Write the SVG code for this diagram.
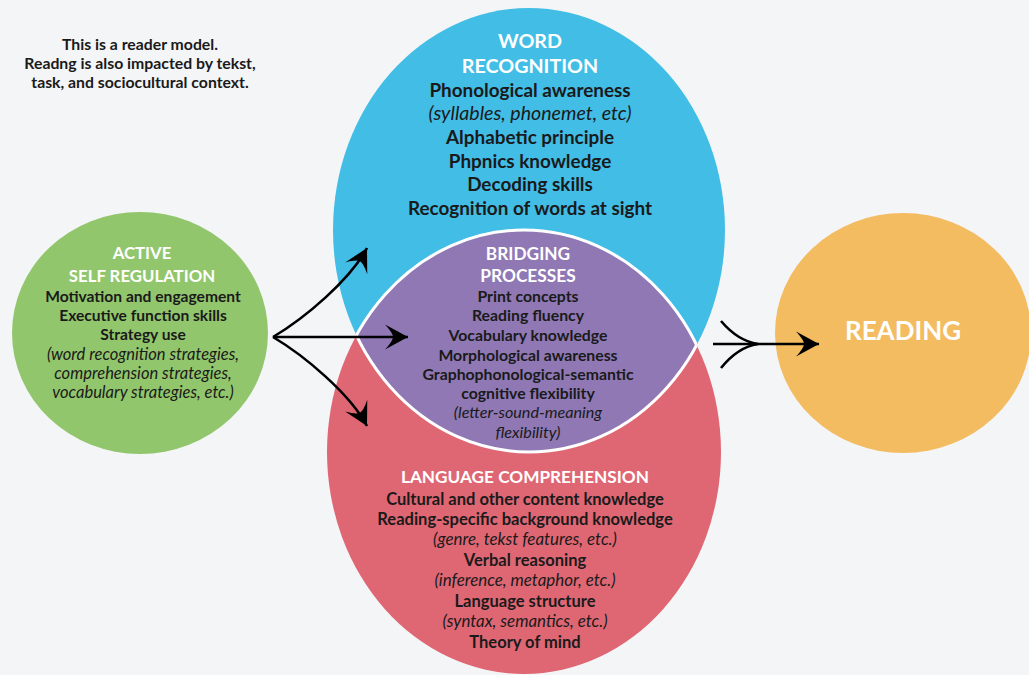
<svg xmlns="http://www.w3.org/2000/svg" width="1029" height="675" viewBox="0 0 1029 675">
<style>
.t{font-family:Lato,"Liberation Sans",sans-serif;text-anchor:middle;fill:#1a1a1a;font-weight:700}
.h{font-family:Lato,"Liberation Sans",sans-serif;text-anchor:middle;fill:#ffffff;font-weight:700}
.i{font-family:Lato,"Liberation Sans",sans-serif;text-anchor:middle;fill:#1a1a1a;font-weight:400;font-style:italic}
.conn{fill:none;stroke:#000;stroke-width:2.6}
</style>
<defs>
<marker id="head" markerUnits="userSpaceOnUse" markerWidth="30" markerHeight="30" viewBox="-26 -15 30 30" refX="0" refY="0" orient="auto">
<path d="M0,0 L-23,-12.5 Q-15,-4 -15,0 Q-15,4 -23,12.5 Z" fill="#000"/>
</marker>
<clipPath id="clipBlue"><ellipse cx="529" cy="230" rx="196" ry="222"/></clipPath>
<clipPath id="clipRed"><ellipse cx="524" cy="452" rx="197" ry="222"/></clipPath>
</defs>
<rect x="0" y="0" width="1029" height="675" fill="#f4f5f7"/>

<g id="note">
<text class="t" font-size="15.8" x="140" y="50">This is a reader model.</text>
<text class="t" font-size="15.8" x="140" y="69">Readng is also impacted by tekst,</text>
<text class="t" font-size="15.8" x="140" y="88">task, and sociocultural context.</text>
</g>

<g id="node-self-regulation">
<ellipse cx="140" cy="333" rx="128" ry="121" fill="#92c66c"/>
<text class="h" font-size="16.8" x="142" y="259">ACTIVE</text>
<text class="h" font-size="16.8" x="142" y="282">SELF REGULATION</text>
<text class="t" font-size="15.6" x="143" y="302">Motivation and engagement</text>
<text class="t" font-size="15.6" x="143" y="321">Executive function skills</text>
<text class="t" font-size="15.6" x="143" y="340">Strategy use</text>
<text class="i" font-size="16.5" x="143" y="360">(word recognition strategies,</text>
<text class="i" font-size="16.5" x="143" y="379">comprehension strategies,</text>
<text class="i" font-size="16.5" x="143" y="398">vocabulary strategies, etc.)</text>
</g>

<g id="node-word-recognition">
<ellipse cx="529" cy="230" rx="196" ry="222" fill="#41bde6"/>
<text class="h" font-size="19.7" x="530" y="48">WORD</text>
<text class="h" font-size="19.7" x="530" y="73">RECOGNITION</text>
<text class="t" font-size="18.9" x="530" y="97">Phonological awareness</text>
<text class="i" font-size="19.6" x="530" y="120">(syllables, phonemet, etc)</text>
<text class="t" font-size="18.9" x="530" y="144">Alphabetic principle</text>
<text class="t" font-size="18.9" x="530" y="168">Phpnics knowledge</text>
<text class="t" font-size="18.9" x="530" y="191">Decoding skills</text>
<text class="t" font-size="18.9" x="530" y="215">Recognition of words at sight</text>
</g>

<g id="node-language-comprehension">
<ellipse cx="524" cy="452" rx="197" ry="222" fill="#df6774"/>
<text class="h" font-size="17.2" x="525" y="483">LANGUAGE COMPREHENSION</text>
<text class="t" font-size="16.5" x="525" y="505">Cultural and other content knowledge</text>
<text class="t" font-size="16.5" x="525" y="525">Reading-specific background knowledge</text>
<text class="i" font-size="16.9" x="525" y="545">(genre, tekst features, etc.)</text>
<text class="t" font-size="16.5" x="525" y="566">Verbal reasoning</text>
<text class="i" font-size="16.9" x="525" y="586">(inference, metaphor, etc.)</text>
<text class="t" font-size="16.5" x="525" y="607">Language structure</text>
<text class="i" font-size="16.9" x="525" y="627">(syntax, semantics, etc.)</text>
<text class="t" font-size="16.5" x="525" y="648">Theory of mind</text>
</g>

<g id="node-bridging">
<g clip-path="url(#clipBlue)">
<ellipse cx="524" cy="452" rx="197" ry="222" fill="#8f78b4" stroke="#ffffff" stroke-width="3"/>
</g>
<g clip-path="url(#clipRed)">
<ellipse cx="529" cy="230" rx="196" ry="222" fill="none" stroke="#ffffff" stroke-width="3"/>
</g>
<text class="h" font-size="17.3" x="528" y="260">BRIDGING</text>
<text class="h" font-size="17.3" x="528" y="282">PROCESSES</text>
<text class="t" font-size="15.8" x="528" y="302">Print concepts</text>
<text class="t" font-size="15.8" x="528" y="321">Reading fluency</text>
<text class="t" font-size="15.8" x="528" y="341">Vocabulary knowledge</text>
<text class="t" font-size="15.8" x="528" y="361">Morphological awareness</text>
<text class="t" font-size="15.8" x="528" y="380">Graphophonological-semantic</text>
<text class="t" font-size="15.8" x="528" y="399">cognitive flexibility</text>
<text class="i" font-size="16.2" x="528" y="418">(letter-sound-meaning</text>
<text class="i" font-size="16.2" x="528" y="438">flexibility)</text>
</g>

<g id="node-reading">
<ellipse cx="903" cy="333" rx="128" ry="120" fill="#f3bc61"/>
<text class="h" font-size="26" x="903" y="340">READING</text>
</g>

<g id="connectors">
<path class="conn" d="M273,337 C305,318 350,280 367,248" marker-end="url(#head)"/>
<path class="conn" d="M273,337 L408,337" marker-end="url(#head)"/>
<path class="conn" d="M273,337 C305,356 350,394 367,426" marker-end="url(#head)"/>
<path class="conn" d="M713,344 L819,344" marker-end="url(#head)"/>
<path class="conn" d="M721,321 Q738,341 758,344"/>
<path class="conn" d="M721,368 Q738,347 758,344"/>
</g>
</svg>
